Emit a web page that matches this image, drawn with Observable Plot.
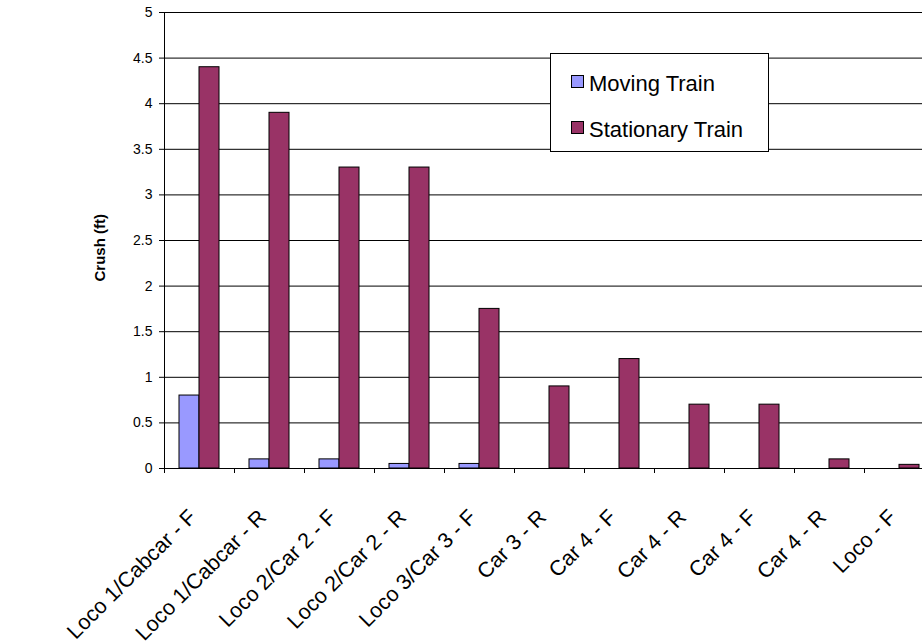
<!DOCTYPE html>
<html><head><meta charset="utf-8">
<script src="https://cdn.jsdelivr.net/npm/d3@7"></script>
<script src="https://cdn.jsdelivr.net/npm/@observablehq/plot@0.6"></script>
<style>
html,body{margin:0;padding:0;background:#fff;overflow:hidden;}
#wrap{position:relative;width:922px;height:642px;overflow:hidden;}
#legend{position:absolute;left:550px;top:53px;width:219px;height:99px;border:1px solid #000;background:#fff;font-family:"Liberation Sans",Arial,sans-serif;font-size:22px;color:#000;box-sizing:border-box;}
.item{position:absolute;left:20px;display:flex;align-items:center;white-space:nowrap;}
.sw{width:11px;height:11px;border:1px solid #000;margin-right:5px;margin-top:-5px;}
</style>
</head><body>
<div id="wrap"><div id="chart"></div><div id="legend"></div></div>
<script>
const categories = ["Loco 1/Cabcar - F","Loco 1/Cabcar - R","Loco 2/Car 2 - F","Loco 2/Car 2 - R","Loco 3/Car 3 - F","Car 3 - R","Car 4 - F","Car 4 - R","Car 4 - F","Car 4 - R","Loco - F"];
const seriesNames = ["Moving Train","Stationary Train"];
const seriesColors = ["#9999FF","#993366"];
const moving = [0.8,0.1,0.1,0.05,0.05,0,0,0,0,0,0];
const stationary = [4.4,3.9,3.3,3.3,1.75,0.9,1.2,0.7,0.7,0.1,0.04];
const yTicks = [0,0.5,1,1.5,2,2.5,3,3.5,4,4.5,5];
const yLabel = "Crush (ft)";

const idx = categories.map((_, i) => i);
const movingData = idx.filter(i => moving[i] > 0).map(i => ({i, v: moving[i]}));
const statData = idx.map(i => ({i, v: stationary[i]}));

const chart = Plot.plot({
  width: 922,
  height: 642,
  marginTop: 12,
  marginBottom: 174,
  marginLeft: 164,
  marginRight: 0,
  style: {fontFamily: "'Liberation Sans', Arial, sans-serif", background: "#fff", color: "#000"},
  x: {type: "band", domain: idx, range: [164, 934], padding: 0, axis: null},
  y: {domain: [0, 5], axis: null},
  marks: [
    Plot.ruleY(yTicks, {stroke: "#000", strokeWidth: 1}),
    Plot.barY(movingData, {x: "i", y: "v", fill: seriesColors[0], stroke: "#000", strokeWidth: 1, insetLeft: 15, insetRight: 35}),
    Plot.barY(statData, {x: "i", y: "v", fill: seriesColors[1], stroke: "#000", strokeWidth: 1, insetLeft: 35, insetRight: 15}),
    Plot.axisY({ticks: yTicks, tickSize: 5, tickPadding: 7, fontSize: 14, tickFormat: d => String(d), stroke: "#000", label: null}),
    Plot.frame({anchor: "left", stroke: "#000"}),
    Plot.axisX({ticks: idx, tickSize: 5, tickFormat: () => "", dx: -35, stroke: "#000", label: null}),
    Plot.text(idx, {x: d => d, text: d => categories[d], frameAnchor: "bottom", rotate: -45, textAnchor: "end", lineAnchor: "bottom", dy: 50, dx: -2, fontSize: 21.5, fill: "#000"}),
    Plot.text([yLabel], {frameAnchor: "left", rotate: -90, dx: -64, dy: 41, fontWeight: "bold", fontSize: 15, fill: "#000"})
  ]
});
document.getElementById("chart").appendChild(chart);

const leg = document.getElementById("legend");
seriesNames.forEach((name, k) => {
  const item = document.createElement("div");
  item.className = "item";
  item.style.top = (k === 0 ? 17 : 63) + "px";
  const sw = document.createElement("span");
  sw.className = "sw";
  sw.style.background = seriesColors[k];
  const t = document.createElement("span");
  t.textContent = name;
  item.appendChild(sw); item.appendChild(t);
  leg.appendChild(item);
});
</script>
</body></html>
